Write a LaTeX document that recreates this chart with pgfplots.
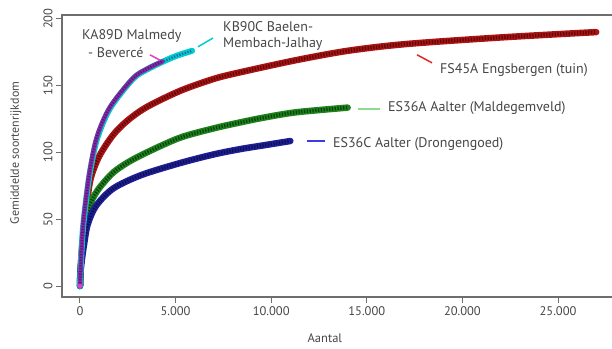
\documentclass[border=0pt]{standalone}
\usepackage{pgfplots}
\pgfplotsset{compat=1.18}
\usepackage{fontspec}
\setmainfont{PT Sans}
\definecolor{txt}{RGB}{70,70,70}
\definecolor{axgray}{RGB}{110,110,110}
\definecolor{cyanc}{RGB}{0,205,210}
\definecolor{purplec}{RGB}{140,40,165}
\definecolor{purpled}{RGB}{50,30,110}
\definecolor{magc}{RGB}{230,60,200}
\definecolor{redc}{RGB}{170,20,20}
\definecolor{redd}{RGB}{70,0,0}
\definecolor{redp}{RGB}{225,40,40}
\definecolor{greenc}{RGB}{30,130,30}
\definecolor{greend}{RGB}{0,45,0}
\definecolor{greenp}{RGB}{140,220,140}
\definecolor{bluec}{RGB}{30,30,150}
\definecolor{blued}{RGB}{10,10,60}
\definecolor{bluep}{RGB}{60,60,225}
\newcommand{\lf}{\fontsize{12.5}{14}\selectfont}
\newcommand{\tf}{\fontsize{14}{16}\selectfont}
\begin{document}
\begin{tikzpicture}
\begin{axis}[name=ax, scale only axis, width=550pt, height=282pt,
  xmin=-941, xmax=27824, ymin=-8.2, ymax=202.8,
  axis line style={draw=none},
  xtick={0,5000,10000,15000,20000,25000},
  xticklabels={0,5.000,10.000,15.000,20.000,25.000},
  ytick={0,50,100,150,200}, yticklabels={0,50,100,150,200},
  xtick pos=left, ytick pos=left, tick align=outside, major tick length=6pt,
  tick style={axgray, line width=1pt},
  ticklabel style={font=\lf, text=txt},
  yticklabel style={rotate=90, anchor=south},
  scaled x ticks=false, scaled y ticks=false,
  clip=false]
% frame
\draw[axgray, line width=1.2pt] (rel axis cs:1,1) -- (rel axis cs:0,1) -- (rel axis cs:0,0) -- (rel axis cs:1,0);
% FS45A red
\addplot[redc, smooth, line width=6.5pt, line join=round, line cap=round] coordinates {
(0,0) (30,12) (100,25) (200,40) (350,60) (550,80) (1000,97) (1730,113) (2500,124) (3500,134) (5230,146) (7000,155) (8400,160) (11300,169) (14000,176) (17000,181) (22000,186) (27000,190)};
\addplot[redd, smooth, line width=3.5pt, dash pattern=on 1.2pt off 1.6pt, opacity=0.8] coordinates {
(0,0) (30,12) (100,25) (200,40) (350,60) (550,80) (1000,97) (1730,113) (2500,124) (3500,134) (5230,146) (7000,155) (8400,160) (11300,169) (14000,176) (17000,181) (22000,186) (27000,190)};
% ES36A green
\addplot[greenc, smooth, line width=6.5pt, line join=round, line cap=round] coordinates {
(0,0) (50,16) (120,30) (250,45) (450,58) (720,67) (1100,75) (1740,85) (2500,92.5) (3500,100) (5230,111) (7000,118) (8400,122.5) (9600,126) (11300,130) (14000,133.5)};
\addplot[greend, smooth, line width=3.5pt, dash pattern=on 1.2pt off 1.6pt, opacity=0.8] coordinates {
(0,0) (50,16) (120,30) (250,45) (450,58) (720,67) (1100,75) (1740,85) (2500,92.5) (3500,100) (5230,111) (7000,118) (8400,122.5) (9600,126) (11300,130) (14000,133.5)};
% ES36C blue
\addplot[bluec, smooth, line width=6.5pt, line join=round, line cap=round] coordinates {
(0,0) (30,12) (100,20) (200,30) (400,46) (840,60) (1740,73) (3200,83) (5230,92) (7000,98.5) (8400,102.5) (9700,105.5) (11000,108.5)};
\addplot[blued, smooth, line width=3.5pt, dash pattern=on 1.2pt off 1.6pt, opacity=0.8] coordinates {
(0,0) (30,12) (100,20) (200,30) (400,46) (840,60) (1740,73) (3200,83) (5230,92) (7000,98.5) (8400,102.5) (9700,105.5) (11000,108.5)};
% KB90C cyan
\addplot[cyanc, smooth, line width=6pt, line join=round, line cap=round] coordinates {
(0,0) (50,18) (150,42) (300,62) (520,85) (890,110) (1570,133) (2770,155) (3500,162) (4200,167) (5000,172) (5860,176)};
\addplot[purpled, smooth, line width=2.5pt, dash pattern=on 1.2pt off 1.6pt, opacity=0.6] coordinates {
(0,0) (50,18) (150,42) (300,62) (520,85) (890,110) (1570,133) (2770,155) (3500,162) (4200,167) (5000,172) (5860,176)};
% KA89D purple
\addplot[purplec, smooth, line width=4.5pt, line join=round, line cap=round] coordinates {
(0,0) (50,19) (150,44) (300,64) (520,87) (890,112) (1570,134) (2770,155.5) (3500,162.5) (4300,168)};
\addplot[purpled, smooth, line width=2.5pt, dash pattern=on 1.2pt off 1.6pt, opacity=0.8] coordinates {
(0,0) (50,19) (150,44) (300,64) (520,87) (890,112) (1570,134) (2770,155.5) (3500,162.5) (4300,168)};
\addplot[magc, only marks, mark=*, mark size=2pt] coordinates {(0,0)};
% pointer segments
\addplot[magc, line width=1.5pt] coordinates {(3660,173) (4180,169)};
\addplot[cyanc, line width=1.5pt] coordinates {(6170,179) (6960,185.6)};
\addplot[redp, line width=1.5pt] coordinates {(17630,173) (18410,167)};
\addplot[greenp, line width=1.5pt] coordinates {(14540,132.5) (15690,132.5)};
\addplot[bluep, line width=1.5pt] coordinates {(11870,108.5) (12810,108.5)};
% labels
\node[anchor=west, inner sep=0pt, font=\tf, text=txt] at (axis cs:105,187.1) {KA89D Malmedy};
\node[anchor=west, inner sep=0pt, font=\tf, text=txt] at (axis cs:418,174.4) {- Bevercé};
\node[anchor=west, inner sep=0pt, font=\tf, text=txt] at (axis cs:7480,193.9) {KB90C Baelen-};
\node[anchor=west, inner sep=0pt, font=\tf, text=txt] at (axis cs:7480,181.1) {Membach-Jalhay};
\node[anchor=west, inner sep=0pt, font=\tf, text=txt] at (axis cs:18830,161.7) {FS45A Engsbergen (tuin)};
\node[anchor=west, inner sep=0pt, font=\tf, text=txt] at (axis cs:16110,133.2) {ES36A Aalter (Maldegemveld)};
\node[anchor=west, inner sep=0pt, font=\tf, text=txt] at (axis cs:13230,106.3) {ES36C Aalter (Drongengoed)};
% axis labels
\node[font=\lf, text=txt] at ([yshift=-41pt]axis description cs:0.478,0) {Aantal};
\node[font=\fontsize{12}{14}\selectfont, text=txt, rotate=90] at ([xshift=-46pt]axis description cs:0,0.511) {Gemiddelde soortenrijkdom};
\end{axis}
\pgfresetboundingbox
\path ([xshift=-62pt,yshift=-52pt]ax.south west) rectangle ([yshift=15pt]ax.north east);
\end{tikzpicture}
\end{document}
